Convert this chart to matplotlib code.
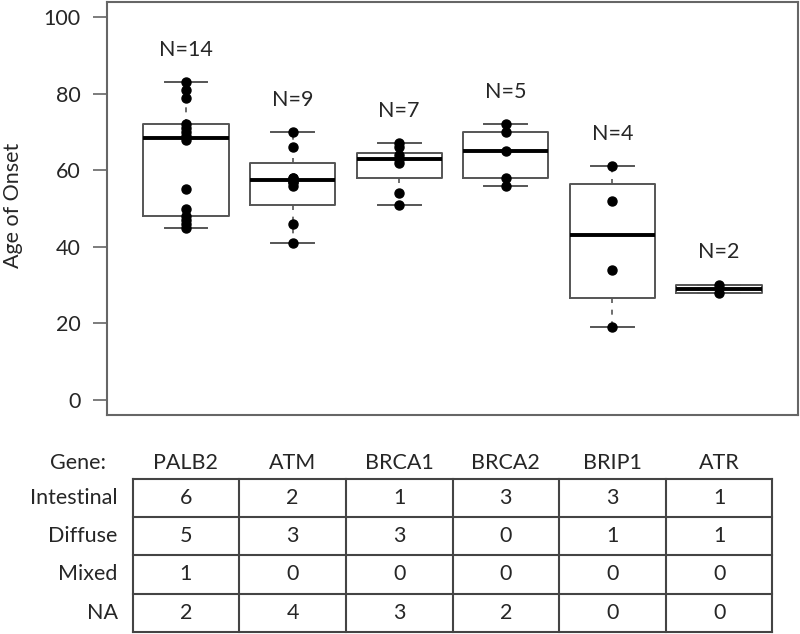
import matplotlib
matplotlib.use("Agg")
import matplotlib.pyplot as plt
import numpy as np

plt.rcParams['font.family'] = ['Lato', 'DejaVu Sans']

# data
genes = ['PALB2', 'ATM', 'BRCA1', 'BRCA2', 'BRIP1', 'ATR']
ages = {
    'PALB2': [45, 46, 47, 48, 50, 55, 68, 69, 70, 71, 72, 79, 81, 83],
    'ATM':   [41, 46, 56, 57, 57, 58, 58, 66, 70],
    'BRCA1': [51, 54, 62, 63, 64, 66, 67],
    'BRCA2': [56, 58, 65, 70, 72],
    'BRIP1': [19, 34, 52, 61],
    'ATR':   [28, 30],
}
# box statistics as drawn
box_q1  = [48, 51, 58, 58, 26.5, 28]
box_med = [68.5, 57.5, 63, 65, 43, 29]
box_q3  = [72, 62, 64.5, 70, 56.5, 30]
box_lo  = [45, 41, 51, 56, 19, 28]
box_hi  = [83, 70, 67, 72, 61, 30]

row_names = ['Intestinal', 'Diffuse', 'Mixed', 'NA']
intestinal = [6, 2, 1, 3, 3, 1]
diffuse    = [5, 3, 3, 0, 1, 1]
mixed      = [1, 0, 0, 0, 0, 0]
na_counts  = [2, 4, 3, 2, 0, 0]
table_rows = [intestinal, diffuse, mixed, na_counts]

W, H = 800, 634
fig = plt.figure(figsize=(W / 100, H / 100), dpi=100)

GRAY = '#666666'
TXT = '#262626'
FS = 15.5

# ---- box plot
ax = fig.add_axes([107 / W, 1 - 415 / H, 691 / W, 413 / H])
pos = np.arange(1, len(genes) + 1)
stats = []
for i, g in enumerate(genes):
    stats.append(dict(med=box_med[i], q1=box_q1[i], q3=box_q3[i],
                      whislo=box_lo[i], whishi=box_hi[i], fliers=[], label=g))

ax.bxp(stats, positions=pos, widths=0.8, showfliers=False,
       boxprops=dict(color='#555555', linewidth=1.4),
       medianprops=dict(color='black', linewidth=2.8),
       whiskerprops=dict(color='#555555', linewidth=1.2, linestyle=(0, (3, 4))),
       capprops=dict(color='#555555', linewidth=1.4),
       capwidths=0.4)

for i, g in enumerate(genes):
    ax.plot(np.full(len(ages[g]), pos[i]), ages[g], 'o', color='black',
            markersize=6.5, zorder=5)
    ax.text(pos[i], max(ages[g]) + 8.5, 'N=%d' % len(ages[g]),
            ha='center', va='center', fontsize=FS, color=TXT)

ax.set_xlim(0.26, 6.74)
ax.set_ylim(-4, 104)
ax.set_xticks([])
ax.set_yticks(np.arange(0, 101, 20))
ax.tick_params(axis='y', length=10, width=1.2, color=GRAY, pad=9,
               labelsize=FS, labelcolor=TXT)
for s in ax.spines.values():
    s.set_color(GRAY)
    s.set_linewidth(1.5)

fig.text(13 / W, 1 - 205 / H, 'Age of Onset', rotation=90, ha='center',
         va='center', fontsize=FS, color=TXT)

# ---- table underneath, sharing the x scale of the boxes
tx = fig.add_axes([107 / W, 0, 691 / W, (634 - 440.8) / H])
tx.set_xlim(0.26, 6.74)
tx.set_ylim(4.06, -1)
tx.axis('off')

nrows = len(row_names)
for r in range(nrows + 1):
    tx.plot([0.5, len(genes) + 0.5], [r, r], color='#444444', lw=1.5,
            clip_on=False)
for c in range(len(genes) + 1):
    tx.plot([c + 0.5, c + 0.5], [0, nrows], color='#444444', lw=1.5,
            clip_on=False)

tx.annotate('Gene:', (0.5, -0.42), xytext=(-27, 0), textcoords='offset pixels',
            ha='right', va='center', fontsize=FS, color=TXT,
            annotation_clip=False)
for i, g in enumerate(genes):
    tx.text(pos[i], -0.42, g, ha='center', va='center', fontsize=FS,
            color=TXT)
for r, name in enumerate(row_names):
    tx.annotate(name, (0.5, r + 0.5), xytext=(-15, 0),
                textcoords='offset pixels', ha='right', va='center',
                fontsize=FS, color=TXT, annotation_clip=False)
    for i in range(len(genes)):
        tx.text(pos[i], r + 0.5, str(table_rows[r][i]), ha='center',
                va='center', fontsize=FS, color=TXT)

fig.savefig('out.png', dpi=100)
